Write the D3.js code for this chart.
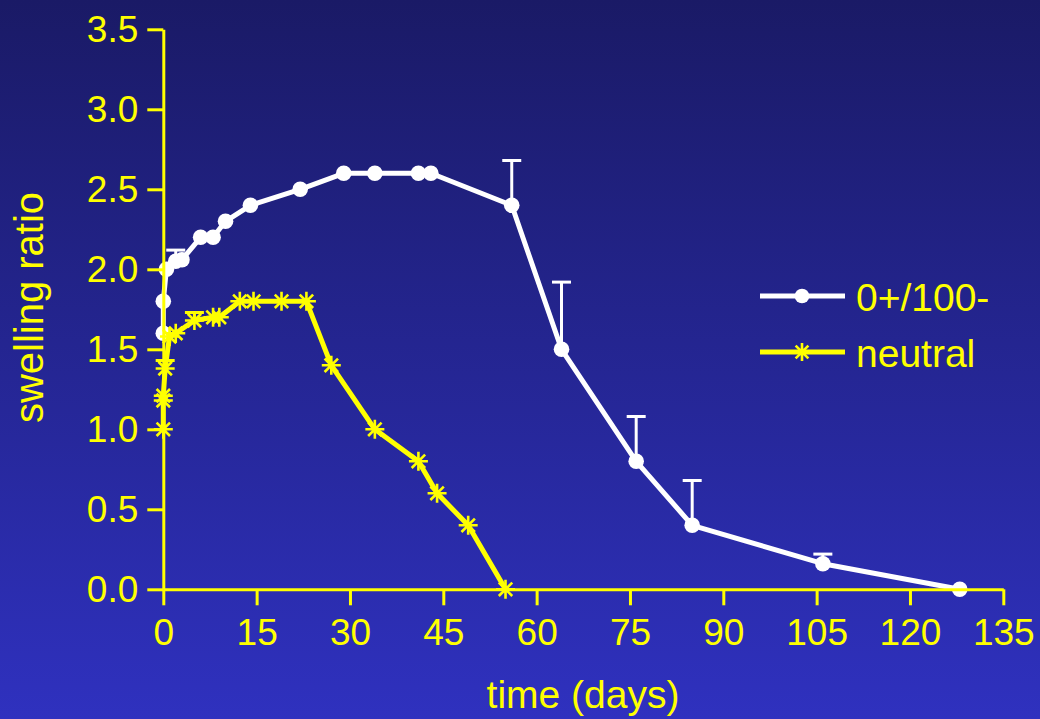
<!DOCTYPE html>
<html>
<head>
<meta charset="utf-8">
<script src="https://cdn.jsdelivr.net/npm/d3@7"></script>
<style>
  html, body { margin: 0; padding: 0; background: #1c1c6c; }
  svg { display: block; }
  text { font-family: "Liberation Sans", Arial, Helvetica, sans-serif; }
</style>
</head>
<body>
<svg id="chart" width="1040" height="719"></svg>
<script>
// Swelling ratio over time, charged (0+/100-) vs neutral gels
const chargedDays   = [0, 0, 0.5, 2, 3, 6, 8, 10, 14, 22, 29, 34, 41, 43, 56, 64, 76, 85, 106, 128];
const chargedRatio  = [1.6, 1.8, 2.0, 2.05, 2.06, 2.2, 2.2, 2.3, 2.4, 2.5, 2.6, 2.6, 2.6, 2.6, 2.4, 1.5, 0.8, 0.4, 0.16, 0.0];
// upper error limits (null where no bar is drawn)
const chargedUpper  = [null, null, null, 2.12, null, null, null, null, null, null, null, null, null, null, 2.68, 1.92, 1.08, 0.68, 0.22, null];

const neutralDays   = [0, 0, 0, 0.3, 1, 2, 5, 8, 9, 12.3, 14.5, 19, 23, 27, 34, 41, 44, 49, 55];
const neutralRatio  = [1.0, 1.18, 1.21, 1.38, 1.58, 1.6, 1.68, 1.7, 1.7, 1.8, 1.8, 1.8, 1.8, 1.4, 1.0, 0.8, 0.6, 0.4, 0.0];
const neutralUpper  = [null, null, null, 1.43, null, null, 1.73, null, null, null, null, null, null, null, null, null, null, null, null];

const xTicks = [0, 15, 30, 45, 60, 75, 90, 105, 120, 135];
const yTicks = [0, 0.5, 1.0, 1.5, 2.0, 2.5, 3.0, 3.5];
const seriesNames = ["0+/100-", "neutral"];

const YELLOW = "#ffff00";
const WHITE = "#ffffff";

const svg = d3.select("#chart");
const W = 1040, H = 719;

// background gradient
const defs = svg.append("defs");
const grad = defs.append("linearGradient").attr("id", "bg").attr("x1", 0).attr("y1", 0).attr("x2", 0).attr("y2", 1);
grad.append("stop").attr("offset", "0%").attr("stop-color", "#1a1a66");
grad.append("stop").attr("offset", "100%").attr("stop-color", "#2f31bf");
svg.append("rect").attr("width", W).attr("height", H).attr("fill", "url(#bg)");

const x = d3.scaleLinear().domain([0, 135]).range([163.3, 1003.3]);
const y = d3.scaleLinear().domain([0, 3.5]).range([589.3, 29.3]);

const charged = chargedDays.map((d, i) => ({ x: d, y: chargedRatio[i], up: chargedUpper[i] }));
const neutral = neutralDays.map((d, i) => ({ x: d, y: neutralRatio[i], up: neutralUpper[i] }));

const line = d3.line().x(d => x(d.x)).y(d => y(d.y));

function starPath(r) {
  const d = r * 0.7071;
  return `M${-r},0H${r}M0,${-r}V${r}M${-d},${-d}L${d},${d}M${-d},${d}L${d},${-d}`;
}

function errorBars(g, data, color) {
  const e = data.filter(d => d.up != null);
  g.selectAll(null).data(e).enter().append("line")
    .attr("x1", d => x(d.x)).attr("x2", d => x(d.x))
    .attr("y1", d => y(d.y)).attr("y2", d => y(d.up))
    .attr("stroke", color).attr("stroke-width", 3);
  g.selectAll(null).data(e).enter().append("line")
    .attr("x1", d => x(d.x) - 9.5).attr("x2", d => x(d.x) + 9.5)
    .attr("y1", d => y(d.up)).attr("y2", d => y(d.up))
    .attr("stroke", color).attr("stroke-width", 3);
}

// charged series
const gW = svg.append("g");
errorBars(gW, charged, WHITE);
gW.append("path").datum(charged).attr("d", line)
  .attr("fill", "none").attr("stroke", WHITE).attr("stroke-width", 5).attr("stroke-linejoin", "round");
gW.selectAll("circle").data(charged).enter().append("circle")
  .attr("cx", d => x(d.x)).attr("cy", d => y(d.y)).attr("r", 7.8).attr("fill", WHITE);

// neutral series
const gY = svg.append("g");
errorBars(gY, neutral, YELLOW);
gY.append("path").datum(neutral).attr("d", line)
  .attr("fill", "none").attr("stroke", YELLOW).attr("stroke-width", 5).attr("stroke-linejoin", "round");
gY.selectAll("path.star").data(neutral).enter().append("path")
  .attr("class", "star")
  .attr("transform", d => `translate(${x(d.x)},${y(d.y)})`)
  .attr("d", starPath(9.5)).attr("fill", "none")
  .attr("stroke", YELLOW).attr("stroke-width", 2.6);

// axes
const yAxis = d3.axisLeft(y).tickValues(yTicks).tickFormat(d3.format(".1f"))
  .tickSize(16).tickSizeOuter(0).tickPadding(9);
const xAxis = d3.axisBottom(x).tickValues(xTicks).tickFormat(d3.format("d"))
  .tickSize(16).tickSizeOuter(0).tickPadding(13);

function styleAxis(g) {
  g.select(".domain").attr("stroke", YELLOW).attr("stroke-width", 3);
  g.selectAll(".tick line").attr("stroke", YELLOW).attr("stroke-width", 3);
  g.selectAll(".tick text").attr("fill", YELLOW)
    .style("font-family", "'Liberation Sans', Arial, Helvetica, sans-serif")
    .style("font-size", "37px");
}

svg.append("g").attr("transform", "translate(0,589.3)").call(xAxis).call(styleAxis);
svg.append("g").attr("transform", "translate(163.3,0)").call(yAxis).call(styleAxis);

// axis titles
svg.append("text").attr("x", 583).attr("y", 708).attr("text-anchor", "middle")
  .attr("fill", YELLOW).style("font-size", "39px").text("time (days)");
svg.append("text").attr("transform", "translate(43,307.5) rotate(-90)").attr("text-anchor", "middle")
  .attr("fill", YELLOW).style("font-size", "40px").text("swelling ratio");

// legend
const legend = svg.append("g");
const legY = [296, 352];
legend.append("line").attr("x1", 760).attr("x2", 845).attr("y1", legY[0]).attr("y2", legY[0])
  .attr("stroke", WHITE).attr("stroke-width", 5);
legend.append("circle").attr("cx", 802).attr("cy", legY[0]).attr("r", 7.3).attr("fill", WHITE);
legend.append("line").attr("x1", 760).attr("x2", 845).attr("y1", legY[1]).attr("y2", legY[1])
  .attr("stroke", YELLOW).attr("stroke-width", 5);
legend.append("path").attr("transform", `translate(802,${legY[1]})`).attr("d", starPath(9))
  .attr("fill", "none").attr("stroke", YELLOW).attr("stroke-width", 2.6);
legend.selectAll("text").data(seriesNames).enter().append("text")
  .attr("x", 856).attr("y", (d, i) => legY[i] + 15)
  .attr("fill", YELLOW).style("font-size", "39px").text(d => d);
</script>
</body>
</html>
